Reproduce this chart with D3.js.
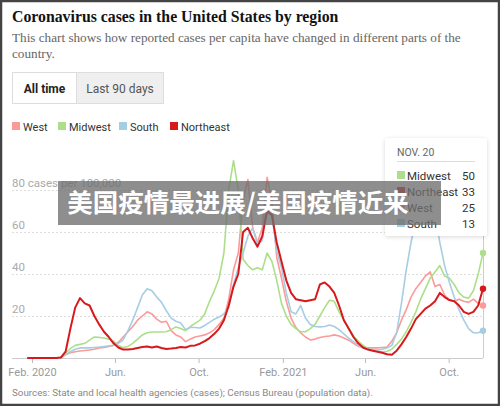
<!DOCTYPE html>
<html>
<head>
<meta charset="utf-8">
<script src="https://cdn.jsdelivr.net/npm/d3@7"></script>
<style>
  body { margin: 0; background: #fff; }
  svg { display: block; }
</style>
</head>
<body>
<svg id="chart"></svg>
<script>
'use strict'

const W = 500
const H = 406

// weekly samples, Jan 25 2020 .. Nov 20 2021
const startDate = new Date(2020, 0, 25)
const weeks = d3.range(96).map((i) => d3.timeDay.offset(startDate, i * 7))

const regions = ['West', 'Midwest', 'South', 'Northeast']
const colors = ['#fb9a99', '#addf8a', '#a6cee3', '#d7191c']

const west = [
  0, 0, 0, 0, 0, 0, 0, 0.2, 1.5, 2.5, 3, 3.3, 3.6, 3.8, 4.2, 4.8, 5, 5.5, 6, 7.5,
  10, 12.5, 15, 18, 20, 22, 21, 18.5, 17, 17.5, 13, 11, 10, 7.8, 9, 10, 10.5, 11, 12, 13.5,
  16, 19, 28, 42, 50, 75, 85, 62, 55, 62, 86, 75, 48, 38, 27, 19, 14.5, 12, 10, 8.6,
  9, 9.8, 10.2, 10.5, 11, 10.5, 9.5, 8.5, 7, 5.5, 5, 4.8, 4.8, 4.8, 5, 5.2, 8, 12, 18, 23,
  29, 33, 36, 39, 41, 34, 35, 30, 27.6, 27, 28, 27, 26.5, 28, 26, 25
]
const midwest = [
  0, 0, 0, 0, 0, 0, 0, 0.3, 2, 4.5, 6, 6.5, 7, 8.5, 10, 9.8, 9.5, 9, 8, 6,
  5, 5.5, 7, 9, 11, 12, 12.4, 12.4, 12.4, 12.5, 13.5, 14.8, 14, 13, 15, 16.5, 18, 21, 27, 32,
  38, 50, 80, 94, 80, 47, 44, 42, 43, 42, 50, 46, 37, 26, 20, 16, 14, 12.5, 12.5, 14,
  16, 20, 24, 27.5, 27, 22, 18, 14, 10.5, 8, 6, 4.5, 3.8, 3.2, 3, 3.2, 4.2, 6.5, 9, 12.5,
  17, 22, 28, 33, 38, 41, 44, 39, 38, 35, 31, 29, 28.5, 32, 40, 50
]
const south = [
  0, 0, 0, 0, 0, 0, 0, 0, 1.5, 3, 4.2, 4.8, 4.8, 4.8, 5, 5.2, 5.5, 5.8, 6, 7,
  8.6, 13, 18, 24, 30, 33, 32, 29, 26.5, 22.5, 19, 17.5, 16.7, 13.5, 14.5, 14.5, 14.3, 15.5, 17, 18.5,
  19.5, 21, 24, 35, 43, 50, 58, 62, 54, 56, 78, 68, 51, 43, 31, 22, 21, 25, 19, 16,
  15, 14.8, 15, 15.7, 15, 13.5, 11.5, 9.5, 7.8, 6, 4.8, 4.2, 4, 3.8, 4.2, 4.8, 6, 12, 26, 42,
  55, 66, 73, 76, 75, 68, 55, 44, 36, 29, 23, 18, 14, 12, 12, 13
]
const northeast = [
  0, 0, 0, 0, 0, 0, 0, 0.2, 3, 14, 24, 28.5, 26, 25, 20, 16, 12.5, 10, 7, 5,
  4, 4, 4.3, 4.8, 5.2, 5.5, 5, 5.5, 4.8, 4.3, 4.5, 4.8, 5.2, 5, 5.8, 6, 6.8, 8, 9.5, 11.5,
  14, 18, 25, 34, 40, 60, 62, 57, 53, 58, 70, 68, 55, 46, 37, 31, 28, 27.5, 27, 27.5,
  28, 35, 36, 34, 31, 25, 18, 14, 10, 7, 5, 4, 3.5, 3, 2.5, 1.8, 1.5, 3.5, 6.5, 10,
  14, 18.5, 21, 23.5, 25, 27, 31, 29, 27.6, 27, 25, 22, 21, 22, 25, 33
]
const seriesValues = [west, midwest, south, northeast]

const yTicks = [20, 40, 60, 80]
const xTickDates = [
  new Date(2020, 1, 1), new Date(2020, 5, 1), new Date(2020, 9, 1),
  new Date(2021, 1, 1), new Date(2021, 5, 1), new Date(2021, 9, 1)
]
const xTickLabels = ['Feb. 2020', 'Jun.', 'Oct.', 'Feb. 2021', 'Jun.', 'Oct.']

const title = 'Coronavirus cases in the United States by region'
const subtitle = [
  'This chart shows how reported cases per capita have changed in different parts of the',
  'country.'
]
const source = 'Sources: State and local health agencies (cases); Census Bureau (population data).'
const banner = '美国疫情最进展/美国疫情近来'

const sans = 'Roboto, "Liberation Sans", sans-serif'
const serif = '"Liberation Serif", "DejaVu Serif", serif'

const svg = d3.select('#chart').attr('width', W).attr('height', H)

const x = d3.scaleTime().domain(d3.extent(weeks)).range([27.2, 483])
const y = d3.scaleLinear().domain([0, 80]).range([358, 190])

// header
svg.append('text')
  .attr('x', 12).attr('y', 22)
  .style('font', `bold 15.8px ${serif}`)
  .style('fill', '#121212')
  .text(title)

svg.selectAll('.sub')
  .data(subtitle)
  .enter().append('text')
  .attr('class', 'sub')
  .attr('x', 12).attr('y', (d, i) => 42 + i * 15.5)
  .style('font', `13.2px ${serif}`)
  .style('fill', '#666')
  .text((d) => d)

// toggle buttons
const btn = svg.append('g')
btn.append('rect').attr('x', 12.5).attr('y', 72.5).attr('width', 64).attr('height', 31)
  .attr('fill', '#fff').attr('stroke', '#ddd')
btn.append('rect').attr('x', 76.5).attr('y', 72.5).attr('width', 87).attr('height', 31)
  .attr('fill', '#efefef').attr('stroke', '#ddd')
btn.append('text').attr('x', 44.5).attr('y', 93).attr('text-anchor', 'middle')
  .style('font', `bold 12px ${sans}`).style('fill', '#222').text('All time')
btn.append('text').attr('x', 120).attr('y', 93).attr('text-anchor', 'middle')
  .style('font', `12px ${sans}`).style('fill', '#555').text('Last 90 days')

// legend
const legendX = [12, 58, 119, 170]
const leg = svg.selectAll('.leg')
  .data(regions)
  .enter().append('g')
  .attr('class', 'leg')
  .attr('transform', (d, i) => `translate(${legendX[i]},122)`)
leg.append('rect').attr('width', 8).attr('height', 8).attr('fill', (d, i) => colors[i])
leg.append('text').attr('x', 11).attr('y', 8.5)
  .style('font', `11px ${sans}`).style('fill', '#333')
  .text((d) => d)

// grid
svg.selectAll('.grid')
  .data(yTicks)
  .enter().append('line')
  .attr('x1', 12).attr('x2', 483)
  .attr('y1', (d) => y(d) + 0.5).attr('y2', (d) => y(d) + 0.5)
  .attr('stroke', '#ddd').attr('stroke-dasharray', '2,2')

svg.selectAll('.ylab')
  .data(yTicks)
  .enter().append('text')
  .attr('x', 12).attr('y', (d) => y(d) - 3)
  .style('font', `11.5px ${sans}`).style('fill', '#aaa')
  .text((d) => d === 80 ? '80 cases per 100,000' : d)

// x axis
const xAxis = d3.axisBottom(x)
  .tickValues(xTickDates)
  .tickFormat((d, i) => xTickLabels[i])
  .tickSize(5)
  .tickPadding(5)
const ax = svg.append('g').attr('transform', `translate(0,${y(0)})`).call(xAxis)
ax.select('.domain').remove()
ax.selectAll('line').attr('stroke', '#bbb')
ax.selectAll('text').style('font', `11px ${sans}`).style('fill', '#999')
svg.append('line').attr('x1', 12).attr('x2', 483)
  .attr('y1', y(0) + 0.5).attr('y2', y(0) + 0.5).attr('stroke', '#ccc')

// hover rule
svg.append('line').attr('x1', x(weeks[95]) + 0.5).attr('x2', x(weeks[95]) + 0.5)
  .attr('y1', 236).attr('y2', y(0)).attr('stroke', '#ccc')

// lines
const line = d3.line()
  .x((d, i) => x(weeks[i]))
  .y((d) => y(d))

svg.append('g').selectAll('path')
  .data(seriesValues)
  .enter().append('path')
  .attr('d', line)
  .attr('fill', 'none')
  .attr('stroke', (d, i) => colors[i])
  .attr('stroke-width', (d, i) => i === 3 ? 2 : 1.6)
  .attr('stroke-linejoin', 'round')

svg.append('g').selectAll('circle')
  .data(seriesValues)
  .enter().append('circle')
  .attr('cx', x(weeks[95]))
  .attr('cy', (d) => y(d[d.length - 1]))
  .attr('r', 3.2)
  .attr('fill', (d, i) => colors[i])

// tooltip
const defs = svg.append('defs')
const f = defs.append('filter').attr('id', 'shadow')
  .attr('x', '-20%').attr('y', '-20%').attr('width', '140%').attr('height', '140%')
f.append('feDropShadow').attr('dx', 0).attr('dy', 1).attr('stdDeviation', 2)
  .attr('flood-color', '#000').attr('flood-opacity', 0.15)

const tip = svg.append('g').attr('transform', 'translate(385,138)')
tip.append('rect').attr('width', 102).attr('height', 98).attr('rx', 3)
  .attr('fill', '#fff').attr('filter', 'url(#shadow)')
tip.append('text').attr('x', 12).attr('y', 18)
  .style('font', `10.5px ${sans}`).style('fill', '#666').text('NOV. 20')
tip.append('line').attr('x1', 12).attr('x2', 90).attr('y1', 23.5).attr('y2', 23.5)
  .attr('stroke', '#ddd')

const order = d3.range(regions.length)
  .sort((a, b) => seriesValues[b][95] - seriesValues[a][95])
const row = tip.selectAll('.row')
  .data(order)
  .enter().append('g')
  .attr('transform', (d, i) => `translate(12,${33 + i * 16})`)
row.append('rect').attr('width', 8).attr('height', 8).attr('fill', (d) => colors[d])
row.append('text').attr('x', 10).attr('y', 8.5)
  .style('font', `11.5px ${sans}`).style('fill', '#333')
  .text((d) => regions[d])
row.append('text').attr('x', 78).attr('y', 8.5).attr('text-anchor', 'end')
  .style('font', `11.5px ${sans}`).style('fill', '#333')
  .text((d) => Math.round(seriesValues[d][95]))

// source
svg.append('text').attr('x', 12).attr('y', 396)
  .style('font', `9.8px ${sans}`).style('fill', '#888')
  .text(source)

// banner overlay
svg.append('rect').attr('x', 58).attr('y', 181).attr('width', 383).attr('height', 44)
  .attr('fill', '#6e6e6e').attr('fill-opacity', 0.78)
svg.append('text').attr('x', 238).attr('y', 212).attr('text-anchor', 'middle')
  .style('font', 'bold 25.5px "Noto Sans CJK SC", sans-serif')
  .style('fill', '#fff')
  .text(banner)

// frame
svg.append('rect').attr('x', 1).attr('y', 1).attr('width', W - 2).attr('height', H - 2)
  .attr('fill', 'none').attr('stroke', '#444').attr('stroke-width', 2.5)
</script>
</body>
</html>
